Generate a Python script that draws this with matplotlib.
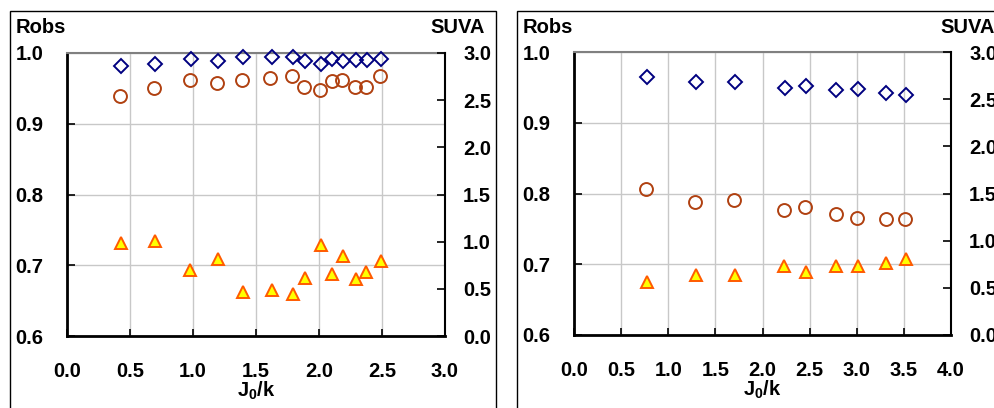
import matplotlib
matplotlib.use("Agg")
import matplotlib.pyplot as plt
from matplotlib.patches import Rectangle

plt.rcParams["font.family"] = ["Liberation Sans", "DejaVu Sans"]
plt.rcParams["font.weight"] = "bold"
plt.rcParams["mathtext.fontset"] = "custom"
plt.rcParams["mathtext.rm"] = "Liberation Sans:bold"
plt.rcParams["mathtext.bf"] = "Liberation Sans:bold"
plt.rcParams["mathtext.it"] = "Liberation Sans:bold"

# panel 1
x1_diam = [0.429, 0.698, 0.984, 1.196, 1.394, 1.624, 1.791, 1.891, 2.016, 2.106, 2.193, 2.291, 2.378, 2.489]
r1_diam = [0.982, 0.984, 0.9915, 0.989, 0.994, 0.994, 0.994, 0.989, 0.984, 0.9915, 0.989, 0.990, 0.990, 0.9915]
x1_circ = [0.421, 0.688, 0.974, 1.188, 1.386, 1.614, 1.786, 1.884, 2.011, 2.101, 2.185, 2.283, 2.370, 2.481]
r1_circ = [0.9396, 0.950, 0.962, 0.9575, 0.962, 0.9646, 0.9674, 0.9518, 0.9476, 0.960, 0.962, 0.9523, 0.9523, 0.9674]
x1_tri = [0.429, 0.696, 0.979, 1.196, 1.394, 1.624, 1.791, 1.891, 2.016, 2.103, 2.190, 2.291, 2.376, 2.489]
s1_tri = [0.981, 1.002, 0.698, 0.811, 0.471, 0.489, 0.450, 0.620, 0.9635, 0.655, 0.847, 0.602, 0.677, 0.793]

# panel 2
x2_diam = [0.778, 1.291, 1.705, 2.235, 2.462, 2.783, 3.010, 3.314, 3.519]
r2_diam = [0.9647, 0.957, 0.957, 0.9496, 0.9524, 0.9468, 0.9472, 0.942, 0.9397]
x2_circ = [0.767, 1.280, 1.698, 2.228, 2.451, 2.776, 3.003, 3.307, 3.512]
r2_circ = [0.8059, 0.7885, 0.7908, 0.7762, 0.7809, 0.771, 0.7658, 0.7635, 0.7635]
x2_tri = [0.778, 1.291, 1.705, 2.232, 2.462, 2.783, 3.010, 3.314, 3.519]
s2_tri = [0.562, 0.636, 0.636, 0.728, 0.671, 0.731, 0.731, 0.767, 0.806]

fs = 14.5
W, H = 995, 408
fig = plt.figure(figsize=(W / 100, H / 100), dpi=100)


def panel(rect, xmax, xd, rd, xc, rc, xt, st):
    ax = fig.add_axes(rect)
    ax.set_xlim(0, xmax)
    ax.set_ylim(0.6, 1.0)
    ax.set_xticks([i * 0.5 for i in range(int(xmax * 2) + 1)])
    ax.set_yticks([0.6, 0.7, 0.8, 0.9, 1.0])
    ax.set_xticklabels([f"{i * 0.5:.1f}" for i in range(int(xmax * 2) + 1)])
    ax.set_yticklabels(["0.6", "0.7", "0.8", "0.9", "1.0"])
    ax.grid(True, color="#c8c8c8", lw=1)
    ax.set_axisbelow(True)
    ax.tick_params(axis="y", direction="in", length=6, width=1.2, pad=17, labelsize=fs, right=False)
    ax.tick_params(axis="x", direction="in", length=5, width=1.2, pad=19, labelsize=fs, top=False)
    ax.spines["left"].set_linewidth(2)
    ax.spines["bottom"].set_linewidth(2)
    ax.spines["top"].set_color("#808080")
    ax.spines["top"].set_linewidth(1.5)
    ax.spines["right"].set_visible(False)
    ax.plot(xd, rd, ls="none", marker="D", ms=7.3, mfc="none", mec="#000080", mew=1.4, clip_on=False, zorder=5)
    ax.plot(xc, rc, ls="none", marker="o", ms=9.3, mfc="none", mec="#b04010", mew=1.4, clip_on=False, zorder=5)

    ax2 = ax.twinx()
    ax2.set_ylim(0, 3.0)
    ax2.set_yticks([0, 0.5, 1.0, 1.5, 2.0, 2.5, 3.0])
    ax2.set_yticklabels(["0.0", "0.5", "1.0", "1.5", "2.0", "2.5", "3.0"])
    ax2.tick_params(axis="y", direction="in", length=6, width=1.2, pad=13, labelsize=fs)
    for s in ["left", "top", "bottom"]:
        ax2.spines[s].set_visible(False)
    ax2.spines["right"].set_linewidth(1.5)
    ax2.plot(xt, st, ls="none", marker="^", ms=8.5, mfc="#ffff00", mec="#ff5a00", mew=1.4, clip_on=False, zorder=5)

    ax.text(0.5, -0.215, r"$\mathbf{J_0/k}$", transform=ax.transAxes, ha="center", va="baseline", fontsize=fs)
    return ax


panel([67 / W, 1 - 336 / H, 378 / W, 283 / H], 3.0, x1_diam, r1_diam, x1_circ, r1_circ, x1_tri, s1_tri)
panel([574 / W, 1 - 335 / H, 377 / W, 283 / H], 4.0, x2_diam, r2_diam, x2_circ, r2_circ, x2_tri, s2_tri)

# outer frames
fig.patches.append(Rectangle((10 / W, -0.1), 486 / W, 1.1 - 11 / H, transform=fig.transFigure,
                             fill=False, ec="black", lw=1))
fig.patches.append(Rectangle((517 / W, -0.1), 0.6, 1.1 - 11 / H, transform=fig.transFigure,
                             fill=False, ec="black", lw=1))

fig.text(16 / W, 1 - 33 / H, "Robs", fontsize=fs, va="baseline", ha="left")
fig.text(485 / W, 1 - 33 / H, "SUVA", fontsize=fs, va="baseline", ha="right")
fig.text(523 / W, 1 - 33 / H, "Robs", fontsize=fs, va="baseline", ha="left")
fig.text(940 / W, 1 - 33 / H, "SUVA", fontsize=fs, va="baseline", ha="left")

fig.savefig("out.png", dpi=100)
